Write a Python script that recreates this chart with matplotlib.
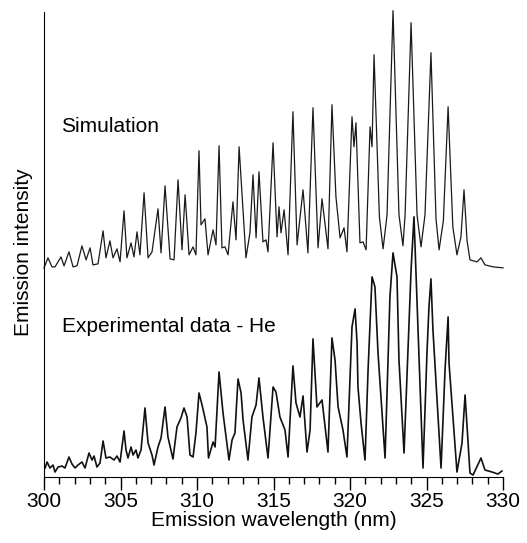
import matplotlib.pyplot as plt
from matplotlib.ticker import MultipleLocator

plt.rcParams["font.family"] = ["Liberation Sans", "DejaVu Sans"]

# simulated spectrum (wavelength nm, intensity a.u.)
sim_wl = [
    300.00, 300.26, 300.52, 300.72, 301.11, 301.31, 301.63, 301.90, 302.16, 302.48,
    302.75, 303.01, 303.20, 303.53, 303.86, 304.05, 304.31, 304.51, 304.77, 304.97,
    305.23, 305.42, 305.69, 305.88, 306.08, 306.27, 306.54, 306.80, 307.06, 307.45,
    307.65, 307.91, 308.24, 308.50, 308.76, 309.02, 309.22, 309.48, 309.74, 309.93,
    310.13, 310.26, 310.52, 310.72, 311.05, 311.24, 311.44, 311.63, 311.83, 312.03,
    312.35, 312.55, 312.75, 313.20, 313.46, 313.66, 313.86, 314.05, 314.31, 314.51,
    314.64, 314.97, 315.23, 315.36, 315.49, 315.69, 315.95, 316.27, 316.54, 316.93,
    317.25, 317.58, 317.91, 318.17, 318.56, 318.82, 319.08, 319.35, 319.61, 319.80,
    320.13, 320.26, 320.39, 320.65, 320.85, 321.05, 321.31, 321.44, 321.57, 321.92,
    322.16, 322.42, 322.81, 323.20, 323.46, 323.60, 323.99, 324.38, 324.64, 324.90,
    325.29, 325.62, 325.82, 326.10, 326.41, 326.72, 326.99, 327.25, 327.45, 327.65,
    327.84, 328.30, 328.56, 328.82, 329.35, 330.00,
]
sim_int = [
    209, 219, 210, 210, 220, 211, 225, 210, 211, 231,
    217, 229, 212, 213, 246, 219, 236, 219, 228, 215,
    266, 219, 234, 220, 245, 222, 284, 219, 225, 268,
    224, 291, 218, 217, 297, 227, 282, 222, 230, 222,
    326, 252, 258, 222, 247, 232, 331, 229, 230, 222,
    275, 237, 330, 219, 244, 302, 239, 305, 235, 237,
    225, 334, 240, 270, 244, 267, 222, 365, 232, 287,
    224, 369, 229, 278, 228, 372, 280, 239, 249, 225,
    360, 330, 354, 234, 235, 227, 350, 330, 422, 260,
    228, 262, 466, 262, 231, 262, 454, 262, 230, 262,
    424, 258, 227, 256, 370, 250, 222, 240, 287, 236,
    217, 215, 219, 212, 210, 209,
]

# measured spectrum in He
exp_wl = [
    300.07, 300.20, 300.39, 300.59, 300.72, 300.92, 301.18, 301.37, 301.63, 301.83,
    302.03, 302.22, 302.48, 302.68, 302.94, 303.14, 303.27, 303.46, 303.66, 303.86,
    304.05, 304.31, 304.58, 304.77, 304.97, 305.23, 305.36, 305.49, 305.69, 305.82,
    306.01, 306.14, 306.34, 306.60, 306.80, 307.06, 307.19, 307.45, 307.65, 307.91,
    308.10, 308.43, 308.69, 308.95, 309.15, 309.35, 309.54, 309.74, 309.93, 310.13,
    310.33, 310.52, 310.65, 310.75, 311.05, 311.18, 311.44, 311.70, 312.09, 312.29,
    312.48, 312.68, 312.88, 313.01, 313.33, 313.59, 313.86, 314.05, 314.31, 314.64,
    314.97, 315.16, 315.42, 315.75, 315.95, 316.27, 316.47, 316.73, 316.93, 317.19,
    317.39, 317.58, 317.84, 318.17, 318.56, 318.82, 319.02, 319.22, 319.54, 319.80,
    320.13, 320.33, 320.46, 320.52, 320.72, 320.98, 321.18, 321.44, 321.63, 321.83,
    322.29, 322.61, 322.81, 323.07, 323.20, 323.53, 323.99, 324.18, 324.38, 324.77,
    325.03, 325.16, 325.29, 325.42, 325.95, 326.21, 326.41, 326.47, 326.99, 327.32,
    327.52, 327.84, 328.04, 328.56, 328.82, 329.28, 329.67, 329.93,
]
exp_int = [
    9, 15, 9, 12, 5, 10, 11, 9, 20, 13,
    9, 12, 15, 9, 24, 17, 21, 10, 14, 36,
    19, 20, 17, 21, 15, 46, 27, 19, 30, 22,
    27, 19, 27, 69, 34, 22, 12, 30, 39, 70,
    40, 18, 50, 59, 69, 60, 22, 20, 44, 84,
    72, 59, 50, 19, 35, 30, 105, 64, 17, 37,
    44, 98, 84, 57, 17, 60, 72, 99, 60, 19,
    90, 85, 60, 47, 20, 111, 74, 60, 81, 25,
    47, 138, 70, 77, 25, 139, 117, 70, 47, 20,
    150, 168, 134, 90, 54, 17, 107, 200, 190, 124,
    19, 180, 224, 200, 117, 24, 207, 260, 174, 9,
    124, 170, 198, 147, 9, 107, 160, 114, 5, 34,
    82, 4, 2, 19, 7, 5, 3, 6,
]

fig = plt.figure(figsize=(5.27, 5.43), dpi=100)
ax = fig.add_axes([0.0835, 0.1215, 0.871, 0.857])

ax.plot(sim_wl, sim_int, color="#1a1a1a", lw=0.9, clip_on=False)
ax.plot(exp_wl, exp_int, color="#111111", lw=1.2, clip_on=False)

ax.text(301.1, 345, "Simulation", fontsize=15)
ax.text(301.2, 145, "Experimental data - He", fontsize=15)

ax.set_xlim(300, 330)
ax.set_ylim(0, 465)
ax.xaxis.set_major_locator(MultipleLocator(5))
ax.xaxis.set_minor_locator(MultipleLocator(1))
ax.tick_params(axis="x", which="major", direction="out", length=9, width=1, labelsize=15, pad=2)
ax.tick_params(axis="x", which="minor", direction="out", length=5, width=1)
ax.set_yticks([])
for s in ["top", "right"]:
    ax.spines[s].set_visible(False)

ax.set_xlabel("Emission wavelength (nm)", fontsize=15, labelpad=0)
ax.set_ylabel("Emission intensity", fontsize=15)
ax.yaxis.set_label_coords(-0.025, 0.484)

fig.savefig("out.png", dpi=100)
